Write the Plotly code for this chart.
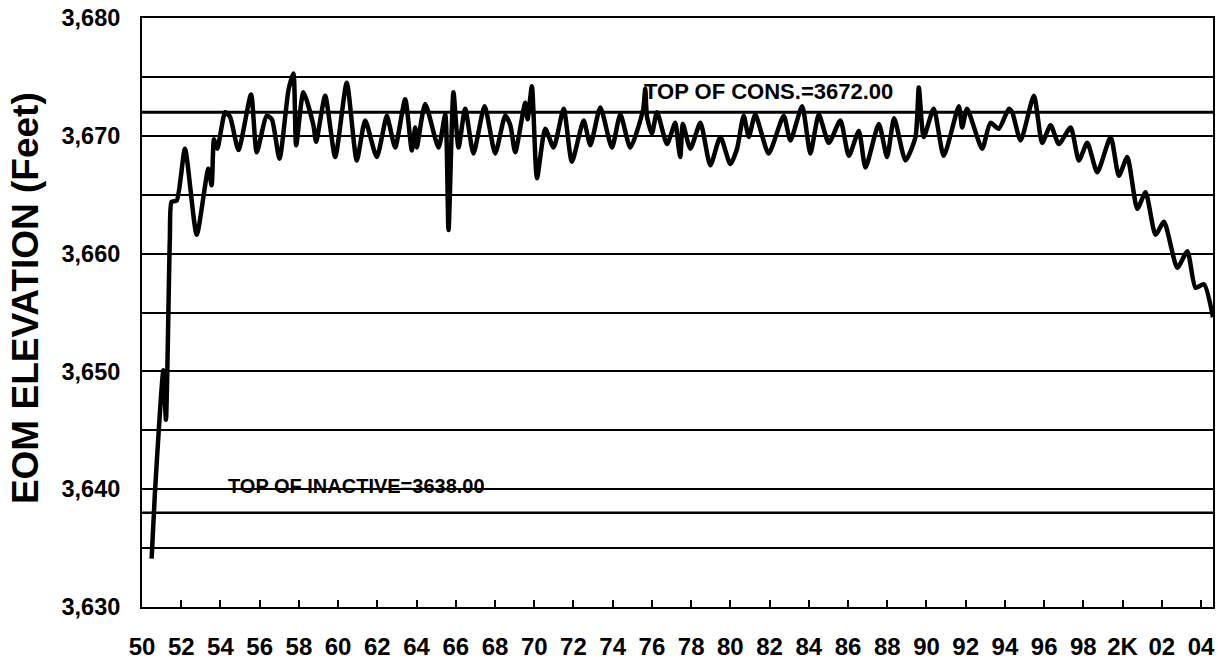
import plotly.graph_objects as go

# EOM elevation readings (decimal year, feet)
years = [
    1950.49, 1950.66, 1951.09, 1951.22, 1951.42, 1951.51, 1951.77, 1952.19, 1952.79, 1953.38,
    1953.55, 1953.67, 1953.84, 1954.24, 1954.49, 1954.92, 1955.56, 1955.85, 1956.36, 1956.62,
    1957.01, 1957.47, 1957.72, 1957.86, 1958.23, 1958.74, 1958.88, 1959.34, 1959.85, 1960.44,
    1960.95, 1961.38, 1961.97, 1962.48, 1962.62, 1962.91, 1963.42, 1963.76, 1963.93, 1964.01,
    1964.44, 1965.12, 1965.46, 1965.63, 1965.88, 1966.14, 1966.48, 1966.90, 1967.47, 1968.01,
    1968.52, 1968.78, 1969.03, 1969.54, 1969.66, 1969.88, 1970.14, 1970.56, 1970.99, 1971.50,
    1971.92, 1972.52, 1972.86, 1973.37, 1973.96, 1974.39, 1974.90, 1975.55, 1975.66, 1975.75,
    1976.00, 1976.26, 1976.77, 1977.19, 1977.36, 1977.45, 1977.58, 1977.96, 1978.47, 1978.98,
    1979.49, 1980.00, 1980.34, 1980.68, 1980.94, 1981.27, 1981.95, 1982.72, 1983.06, 1983.66,
    1984.08, 1984.51, 1985.02, 1985.61, 1986.04, 1986.55, 1986.89, 1987.57, 1987.99, 1988.35,
    1988.93, 1989.44, 1989.61, 1989.86, 1990.37, 1990.88, 1991.65, 1991.82, 1992.07, 1992.84,
    1993.26, 1993.69, 1994.20, 1994.37, 1994.80, 1995.48, 1995.90, 1996.33, 1996.75, 1997.35,
    1997.77, 1998.20, 1998.71, 1999.39, 1999.81, 2000.24, 2000.75, 2001.17, 2001.68, 2002.11,
    2002.79, 2003.30, 2003.72, 2004.15, 2004.61,
]
elevation = [
    3634.1, 3639.7, 3650.1, 3645.9, 3661.3, 3664.4, 3664.5, 3668.9, 3661.6, 3667.2,
    3665.8, 3669.7, 3668.9, 3672.0, 3671.6, 3668.8, 3673.5, 3668.6, 3671.7, 3671.4,
    3668.05, 3673.9, 3675.3, 3669.2, 3673.7, 3670.9, 3669.5, 3673.4, 3668.2, 3674.5,
    3667.9, 3671.3, 3668.2, 3671.7, 3670.9, 3669.0, 3673.1, 3668.75, 3670.7, 3669.0,
    3672.7, 3669.0, 3671.8, 3662.0, 3673.7, 3669.0, 3672.3, 3668.5, 3672.5, 3668.5,
    3671.7, 3670.9, 3668.6, 3672.8, 3671.4, 3674.2, 3666.4, 3670.6, 3669.0, 3672.3,
    3667.8, 3671.3, 3669.2, 3672.4, 3669.0, 3671.8, 3669.0, 3672.2, 3674.0, 3671.6,
    3670.2, 3672.0, 3669.3, 3671.1, 3669.0, 3668.2, 3671.0, 3668.9, 3671.1, 3667.5,
    3669.9, 3667.6, 3668.9, 3671.7, 3669.9, 3671.8, 3668.5, 3671.7, 3669.6, 3672.5,
    3668.5, 3671.8, 3669.4, 3671.3, 3668.3, 3670.4, 3667.3, 3671.0, 3668.2, 3671.5,
    3667.9, 3669.9, 3674.1, 3669.9, 3672.3, 3668.3, 3672.5, 3670.7, 3672.3, 3668.9,
    3671.1, 3670.6, 3672.3, 3672.0, 3669.6, 3673.4, 3669.4, 3670.9, 3669.3, 3670.7,
    3667.9, 3669.4, 3666.9, 3669.9, 3666.6, 3668.2, 3663.8, 3665.2, 3661.6, 3662.7,
    3658.8, 3660.2, 3657.1, 3657.4, 3654.6,
]

top_of_cons = 3672.00
top_of_inactive = 3638.00

x_tick_vals = list(range(1950, 2005, 2))
x_tick_text = ["50", "52", "54", "56", "58", "60", "62", "64", "66", "68", "70", "72", "74",
               "76", "78", "80", "82", "84", "86", "88", "90", "92", "94", "96", "98", "2K",
               "02", "04"]
y_tick_vals = [3630, 3640, 3650, 3660, 3670, 3680]
y_title = "EOM ELEVATION (Feet)"

FONT = "Liberation Sans, Arial, sans-serif"

fig = go.Figure()
fig.add_trace(go.Scatter(
    x=years, y=elevation, mode="lines",
    line=dict(color="black", width=4.5, shape="spline", smoothing=0.6),
    hoverinfo="skip", showlegend=False,
))

fig.add_shape(type="line", xref="paper", x0=0, x1=1, yref="y",
              y0=top_of_cons, y1=top_of_cons, line=dict(color="black", width=3), layer="below")
fig.add_shape(type="line", xref="paper", x0=0, x1=1, yref="y",
              y0=top_of_inactive, y1=top_of_inactive, line=dict(color="black", width=2.5), layer="below")

fig.add_annotation(x=1975.5, y=3673.75, xref="x", yref="y",
                   text=f"TOP OF CONS.={top_of_cons:.2f}", showarrow=False,
                   xanchor="left", yanchor="middle",
                   font=dict(family=FONT, size=22, color="black", weight="bold"))
fig.add_annotation(x=1954.3, y=3640.3, xref="x", yref="y",
                   text=f"TOP OF INACTIVE={top_of_inactive:.2f}", showarrow=False,
                   xanchor="left", yanchor="middle",
                   font=dict(family=FONT, size=20, color="black", weight="bold"))
fig.add_annotation(x=0, xref="paper", xshift=-116.5, xanchor="center",
                   y=0.5236, yref="paper", yanchor="middle",
                   text=y_title, textangle=-90, showarrow=False,
                   font=dict(family=FONT, size=37, color="black", weight="bold"))

fig.update_layout(
    width=1218, height=663,
    margin=dict(l=142, r=3, t=18, b=51),
    paper_bgcolor="white", plot_bgcolor="white",
    font=dict(family=FONT, color="black"),
)
fig.update_xaxes(
    range=[1950, 2004.61],
    tickvals=x_tick_vals, ticktext=x_tick_text,
    ticks="inside", ticklen=7, tickwidth=1.5, tickcolor="black",
    tickfont=dict(family=FONT, size=24, color="black", weight="bold"),
    ticklabelstandoff=17,
    showline=True, linecolor="black", linewidth=2, mirror=True,
    showgrid=False, zeroline=False,
)
fig.update_yaxes(
    range=[3630, 3680],
    tickvals=y_tick_vals, tickformat=",d",
    ticks="", ticklabelstandoff=15,
    tickfont=dict(family=FONT, size=23.5, color="black", weight="bold"),
    showline=True, linecolor="black", linewidth=2, mirror=True,
    showgrid=True, gridcolor="black", gridwidth=1.5,
    minor=dict(dtick=5, tick0=3630, showgrid=True, gridcolor="black", gridwidth=1.5),
    zeroline=False,
)

fig.write_html(
    "out.html",
    config={"displayModeBar": False},
    post_script="document.body.style.margin='0';document.body.style.overflow='hidden';",
)
